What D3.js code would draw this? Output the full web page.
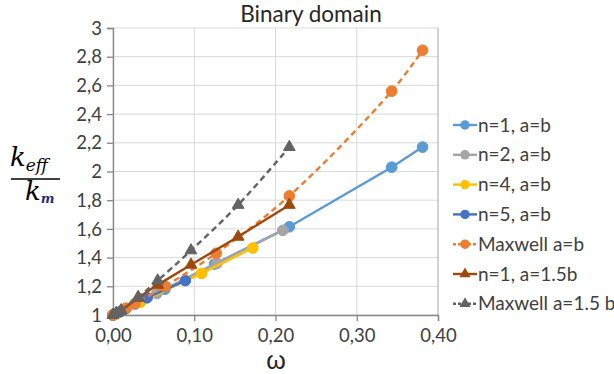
<!DOCTYPE html>
<html><head><meta charset="utf-8">
<script src="https://cdn.jsdelivr.net/npm/d3@7"></script>
<style>body{margin:0;background:#fff}svg{display:block}</style>
</head><body>
<svg id="c" width="614" height="374"></svg>
<script>
// ---- data ----
const xTicks = [0, 0.1, 0.2, 0.3, 0.4];
const xTickLabels = ["0,00", "0,10", "0,20", "0,30", "0,40"];
const yTicks = [1, 1.2, 1.4, 1.6, 1.8, 2, 2.2, 2.4, 2.6, 2.8, 3];
const yTickLabels = ["1", "1,2", "1,4", "1,6", "1,8", "2", "2,2", "2,4", "2,6", "2,8", "3"];

const seriesNames = ["n=1, a=b", "n=2, a=b", "n=4, a=b", "n=5, a=b", "Maxwell a=b", "n=1, a=1.5b", "Maxwell a=1.5 b"];

const n1_w = [0, 0.002, 0.016, 0.064, 0.125, 0.217, 0.343, 0.381];
const n1_k = [1, 1.005, 1.045, 1.18, 1.355, 1.615, 2.03, 2.17];
const n2_w = [0, 0.008, 0.027, 0.054, 0.128, 0.209];
const n2_k = [1, 1.02, 1.075, 1.15, 1.36, 1.59];
const n4_w = [0, 0.013, 0.034, 0.109, 0.172];
const n4_k = [1, 1.035, 1.09, 1.29, 1.467];
const n5_w = [0, 0.011, 0.042, 0.089];
const n5_k = [1, 1.03, 1.12, 1.24];
const mx1_w = [0, 0.002, 0.016, 0.027, 0.064, 0.127, 0.217, 0.343, 0.381];
const mx1_k = [1, 1.006, 1.047, 1.08, 1.20, 1.43, 1.83, 2.56, 2.845];
const n1b_w = [0, 0.004, 0.010, 0.031, 0.055, 0.096, 0.154, 0.217];
const n1b_k = [1, 1.012, 1.03, 1.12, 1.21, 1.35, 1.545, 1.767];
const mx2_w = [0, 0.004, 0.010, 0.031, 0.055, 0.096, 0.154, 0.217];
const mx2_k = [1, 1.013, 1.032, 1.125, 1.24, 1.45, 1.767, 2.17];

const seriesW = [n1_w, n2_w, n4_w, n5_w, mx1_w, n1b_w, mx2_w];
const seriesK = [n1_k, n2_k, n4_k, n5_k, mx1_k, n1b_k, mx2_k];
const colors = ["#5B9BD5", "#A5A5A5", "#FFC000", "#4472C4", "#ED7D31", "#9E480E", "#636363"];
const markers = ["circle", "circle", "circle", "circle", "circle", "triangle", "triangle"];
const dashed = [false, false, false, false, true, false, true];

// ---- layout ----
const svg = d3.select("#c");
const L = 113, R = 438, T = 28, B = 315;
const x = d3.scaleLinear().domain([0, 0.4]).range([L, R]);
const y = d3.scaleLinear().domain([1, 3]).range([B, T]);
const font = "Lato, 'Open Sans', sans-serif";

// gridlines
svg.append("g").selectAll("line").data(yTicks).join("line")
  .attr("x1", L).attr("x2", R).attr("y1", d => y(d)).attr("y2", d => y(d))
  .attr("stroke", "#D9D9D9").attr("stroke-width", 1);
svg.append("g").selectAll("line").data(xTicks).join("line")
  .attr("x1", d => x(d)).attr("x2", d => x(d)).attr("y1", T).attr("y2", B)
  .attr("stroke", d => d === 0.4 ? "#A6A6A6" : "#D9D9D9").attr("stroke-width", 1);

// axes
const yAxis = d3.axisLeft(y).tickValues(yTicks).tickFormat((d, i) => yTickLabels[i]).tickSize(6).tickPadding(5);
const xAxis = d3.axisBottom(x).tickValues(xTicks).tickFormat((d, i) => xTickLabels[i]).tickSize(6).tickPadding(6);
const gy = svg.append("g").attr("transform", `translate(${L},0)`).call(yAxis);
const gx = svg.append("g").attr("transform", `translate(0,${B})`).call(xAxis);
[gx, gy].forEach(g => {
  g.select(".domain").attr("stroke", "#868686").attr("stroke-width", 1.3);
  g.selectAll(".tick line").attr("stroke", "#868686").attr("stroke-width", 1.3);
  g.selectAll(".tick text").attr("fill", "#404040").style("font-family", font).style("font-size", "18.5px");
});
gy.selectAll(".tick text").attr("dy", "0.33em");
gx.selectAll(".tick text").attr("dy", "0.8em");

// series
const sym = {circle: d3.symbolCircle, triangle: d3.symbolTriangle};
const symSize = {circle: 90, triangle: 60};
seriesNames.forEach((name, i) => {
  const pts = seriesW[i].map((w, j) => [w, seriesK[i][j]]);
  const line = d3.line().x(d => x(d[0])).y(d => y(d[1]))
    .curve(dashed[i] ? d3.curveCatmullRom.alpha(0.5) : d3.curveLinear);
  const g = svg.append("g");
  g.append("path").attr("d", line(pts)).attr("fill", "none")
    .attr("stroke", colors[i]).attr("stroke-width", 2.4)
    .attr("stroke-dasharray", dashed[i] ? "6,4" : null);
  g.selectAll("path.m").data(pts).join("path")
    .attr("transform", d => `translate(${x(d[0])},${y(d[1])})`)
    .attr("d", d3.symbol().type(sym[markers[i]]).size(symSize[markers[i]])())
    .attr("fill", colors[i]).attr("stroke", colors[i]).attr("stroke-width", 1);
});

// title
svg.append("text").attr("x", 311).attr("y", 22).attr("text-anchor", "middle")
  .style("font-family", font).style("font-size", "22.5px").attr("fill", "#262626").text("Binary domain");

// x label
svg.append("text").attr("x", 276).attr("y", 369).attr("text-anchor", "middle")
  .style("font-family", "'Liberation Sans', Arial, sans-serif").style("font-size", "25px").attr("fill", "#262626").text("ω");

// y label fraction
const serif = "'DejaVu Serif', 'Liberation Serif', serif";
const yl = svg.append("g");
const t1 = yl.append("text").attr("x", 10).attr("y", 166).style("font-family", serif).attr("fill", "#000");
t1.append("tspan").style("font-size", "26px").style("font-style", "italic").text("k");
t1.append("tspan").style("font-size", "17px").style("font-style", "italic").attr("dy", 5).text("eff");
yl.append("line").attr("x1", 11).attr("x2", 60).attr("y1", 179).attr("y2", 179).attr("stroke", "#000").attr("stroke-width", 1.3);
const t2 = yl.append("text").attr("x", 25).attr("y", 200).style("font-family", serif).attr("fill", "#000");
t2.append("tspan").style("font-size", "26px").style("font-style", "italic").text("k");
t2.append("tspan").style("font-size", "13px").style("font-weight", "bold").style("font-style", "italic").attr("fill", "#1F2F7A").attr("dy", 3).text("m");

// legend
const lg = svg.append("g");
seriesNames.forEach((name, i) => {
  const yy = 125 + i * 29.8;
  lg.append("line").attr("x1", 453).attr("x2", 477).attr("y1", yy).attr("y2", yy)
    .attr("stroke", colors[i]).attr("stroke-width", 2.4).attr("stroke-dasharray", dashed[i] ? "3,2" : null);
  lg.append("path").attr("transform", `translate(465,${yy})`)
    .attr("d", d3.symbol().type(sym[markers[i]]).size(markers[i] === "circle" ? 70 : 55)())
    .attr("fill", colors[i]);
  lg.append("text").attr("x", 478).attr("y", yy).attr("dy", "0.35em")
    .style("font-family", font).style("font-size", "19px").attr("fill", "#404040").text(name);
});
</script>
</body></html>
